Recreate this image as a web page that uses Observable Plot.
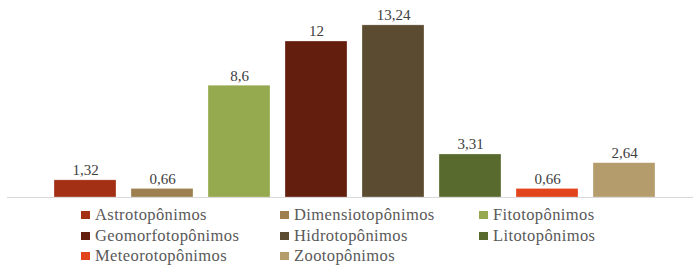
<!DOCTYPE html>
<html>
<head>
<meta charset="utf-8">
<script src="https://cdn.jsdelivr.net/npm/d3@7"></script>
<script src="https://cdn.jsdelivr.net/npm/@observablehq/plot@0.6"></script>
<style>
  html, body { margin: 0; padding: 0; background: #fff; }
  #chart { width: 693px; }
  #legend {
    display: grid;
    grid-template-columns: 199px 199px 199px;
    grid-auto-rows: 20.5px;
    padding-left: 81px;
    margin-top: 6px;
    font-family: "Liberation Serif", "Times New Roman", serif;
    font-size: 16.5px;
    letter-spacing: 0.4px;
    color: #595959;
  }
  .item { display: flex; align-items: center; white-space: nowrap; }
  .sw { width: 9px; height: 8px; margin-right: 5px; flex: none; }
</style>
</head>
<body>
<div id="chart"></div>
<div id="legend"></div>
<script>
const categories = ["Astrotopônimos", "Dimensiotopônimos", "Fitotopônimos", "Geomorfotopônimos", "Hidrotopônimos", "Litotopônimos", "Meteorotopônimos", "Zootopônimos"];
const values = [1.32, 0.66, 8.6, 12, 13.24, 3.31, 0.66, 2.64];
const labels = ["1,32", "0,66", "8,6", "12", "13,24", "3,31", "0,66", "2,64"];
const colors = ["#a33014", "#9e8050", "#95a94e", "#641e0e", "#5b4b30", "#586a2d", "#e2441b", "#b59c6d"];

const data = categories.map((c, i) => ({category: c, value: values[i], label: labels[i]}));

const chart = Plot.plot({
  width: 693,
  height: 199,
  marginLeft: 7,
  marginRight: 0,
  marginTop: 15,
  marginBottom: 2,
  x: {domain: categories, paddingInner: 0.2, paddingOuter: 0.54, align: 0.55, axis: null},
  y: {domain: [0, 14], axis: null},
  color: {domain: categories, range: colors},
  marks: [
    Plot.barY(data, {x: "category", y: "value", fill: "category", stroke: "#ffffff", strokeOpacity: 0.5, strokeWidth: 0.6}),
    Plot.ruleY([0], {stroke: "#d9d9d9", strokeWidth: 1}),
    Plot.text(data, {x: "category", y: "value", text: "label", lineAnchor: "middle", dy: -10,
      fill: "#404040", fontSize: 15, fontFamily: "'Liberation Serif', 'Times New Roman', serif"})
  ]
});
document.getElementById("chart").appendChild(chart);

const legend = document.getElementById("legend");
categories.forEach((c, i) => {
  const item = document.createElement("div");
  item.className = "item";
  const sw = document.createElement("span");
  sw.className = "sw";
  sw.style.background = colors[i];
  const t = document.createElement("span");
  t.textContent = c;
  item.appendChild(sw);
  item.appendChild(t);
  legend.appendChild(item);
});
</script>
</body>
</html>
